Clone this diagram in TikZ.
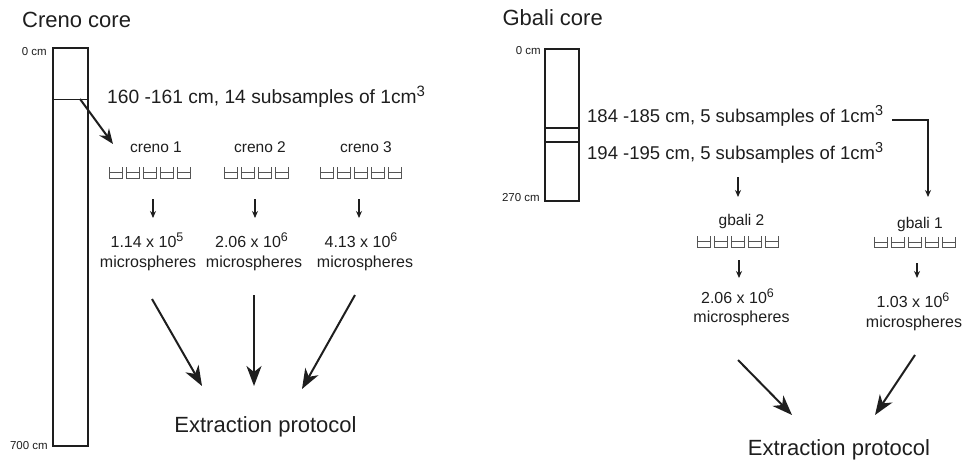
\documentclass[tikz,border=0pt]{standalone}
\usepackage{fontspec}
\usepackage{graphicx}
\setmainfont{Liberation Sans}
\usetikzlibrary{arrows.meta}
\definecolor{ink}{HTML}{1E1E1E}
\definecolor{tubegray}{HTML}{555555}
\newcommand\fs[1]{\fontsize{#1}{#1}\selectfont}
\newcommand\upsc[1]{\raisebox{0.36em}{\scalebox{0.78}{#1}}}
\newcommand\tuberow[4]{%
  \node[tuberowbox, minimum width={#4*17pt}] (#1) at (#2,#3) {};
  \begin{scope}[shift={(#1.north west)}]
    \foreach \i in {1,...,#4}{
      \pgfmathsetmacro\xa{(\i-1)*17+2}
      \draw[tubeline] (\xa,0) -- (\xa,11) -- (\xa+13,11) -- (\xa+13,0);
      \draw[tubeline] (\xa,5.5) -- (\xa+13,5.5);
    }
  \end{scope}}
\tikzset{
  txt/.style={inner sep=0pt, text=ink},
  title/.style={txt, font=\fs{22}},
  rangetxt/.style={txt, font=\fs{18.5}},
  lbl/.style={txt, font=\fs{15.5}},
  num/.style={txt, font=\fs{16}},
  cmlbl/.style={txt, font=\fs{11.5}},
  corebox/.style={draw=ink, line width=1.7pt, inner sep=0pt},
  tuberowbox/.style={inner sep=0pt, minimum height=11pt},
  tubeline/.style={draw=tubegray, line width=1.3pt, line join=miter},
  sarr/.style={draw=ink, line width=1.1pt, -{Stealth[length=7pt,width=6pt]}},
  barr/.style={draw=ink, line width=2pt, -{Stealth[length=20pt,width=15pt,inset=6pt]}},
}
\begin{document}
\begin{tikzpicture}[x=1pt,y=-1pt]
\useasboundingbox (0,0) rectangle (968,464);
% ---------------- Creno ----------------
\node[title, anchor=base west] (ctitle) at (22,27) {Creno core};
\node[corebox, minimum width=35pt, minimum height=398pt] (ccore) at (70.5,247) {};
\draw[ink, line width=0.9pt] (ccore.west |- 0,99) -- (ccore.east |- 0,99);
\node[cmlbl, anchor=base east] (c0) at (47,55) {0 cm};
\node[cmlbl, anchor=base east] (c700) at (48,449) {700 cm};
\node[rangetxt, font=\fs{19.2}, anchor=base west] (crange) at (107,103) {160 -161 cm, 14 subsamples of 1cm\upsc{3}};
\coordinate (ccut) at (80,99);
\coordinate (ccutend) at (113,144);
\draw[ink, line width=2pt, -{Stealth[length=15pt,width=12pt,inset=5pt]}] (ccut) -- (ccutend);

\node[lbl, anchor=base] (cl1) at (156,152) {creno 1};
\node[lbl, anchor=base] (cl2) at (260,152) {creno 2};
\node[lbl, anchor=base] (cl3) at (366,152) {creno 3};

\tuberow{ct1}{150}{173}{5}
\tuberow{ct2}{257}{173}{4}
\tuberow{ct3}{361}{173}{5}

\node[num, anchor=base] (cn1) at (147,247) {1.14 x 10\upsc{5}};
\node[num, anchor=base] (cn2) at (251.5,247) {2.06 x 10\upsc{6}};
\node[num, anchor=base] (cn3) at (361,247) {4.13 x 10\upsc{6}};
\node[num, anchor=base] (cm1) at (148,267) {microspheres};
\node[num, anchor=base] (cm2) at (254,267) {microspheres};
\node[num, anchor=base] (cm3) at (365,267) {microspheres};

\coordinate (cs1a) at (153,199); \coordinate (cs1b) at (153,218);
\coordinate (cs2a) at (255,199); \coordinate (cs2b) at (255,218);
\coordinate (cs3a) at (359,199); \coordinate (cs3b) at (359,218);
\draw[sarr] (cs1a) -- (cs1b);
\draw[sarr] (cs2a) -- (cs2b);
\draw[sarr] (cs3a) -- (cs3b);

\node[txt, font=\fs{22}, anchor=base] (cext) at (265.5,432) {Extraction protocol};
\coordinate (cb1a) at (152,299); \coordinate (cb1b) at (202,386);
\coordinate (cb2a) at (254,295); \coordinate (cb2b) at (254,386);
\coordinate (cb3a) at (355,295); \coordinate (cb3b) at (302,389);
\draw[barr] (cb1a) -- (cb1b);
\draw[barr] (cb2a) -- (cb2b);
\draw[barr] (cb3a) -- (cb3b);

% ---------------- Gbali ----------------
\node[title, anchor=base east] (gtitle) at (603,25) {Gbali core};
\node[corebox, minimum width=34pt, minimum height=152pt] (gcore) at (562,125) {};
\draw[ink, line width=1.5pt] (gcore.west |- 0,128) -- (gcore.east |- 0,128);
\draw[ink, line width=1.5pt] (gcore.west |- 0,142) -- (gcore.east |- 0,142);
\node[cmlbl, anchor=base east] (g0) at (541,54) {0 cm};
\node[cmlbl, anchor=base east] (g270) at (540,201) {270 cm};
\node[rangetxt, anchor=base west] (grange1) at (587,122) {184 -185 cm, 5 subsamples of 1cm\upsc{3}};
\node[rangetxt, anchor=base west] (grange2) at (587,159) {194 -195 cm, 5 subsamples of 1cm\upsc{3}};

\node[lbl, anchor=base] (gl2) at (741.5,225) {gbali 2};
\node[lbl, anchor=base] (gl1) at (920,228) {gbali 1};

\coordinate (gb1) at (892,120);
\coordinate (gb2) at (928,197);
\draw[sarr] (gb1) -| (gb2);
\coordinate (ga1) at (738,177);
\coordinate (ga2) at (738,197);
\draw[sarr] (ga1) -- (ga2);

\tuberow{gt2}{738.5}{242}{5}
\tuberow{gt1}{915}{242.5}{5}

\node[num, anchor=base] (gn2) at (737.5,303) {2.06 x 10\upsc{6}};
\node[num, anchor=base] (gn1) at (913,307) {1.03 x 10\upsc{6}};
\node[num, anchor=base] (gm2) at (741.5,322) {microspheres};
\node[num, anchor=base] (gm1) at (914,327) {microspheres};

\coordinate (gs2a) at (739,260); \coordinate (gs2b) at (739,278);
\coordinate (gs1a) at (917,263); \coordinate (gs1b) at (917,278);
\draw[sarr] (gs2a) -- (gs2b);
\draw[sarr] (gs1a) -- (gs1b);

\node[txt, font=\fs{22}, anchor=base] (gext) at (839,455) {Extraction protocol};
\coordinate (gb2a) at (738,360); \coordinate (gb2b) at (792,415);
\coordinate (gb1a) at (915,355); \coordinate (gb1b) at (875,415);
\draw[barr] (gb2a) -- (gb2b);
\draw[barr] (gb1a) -- (gb1b);
\end{tikzpicture}
\end{document}
